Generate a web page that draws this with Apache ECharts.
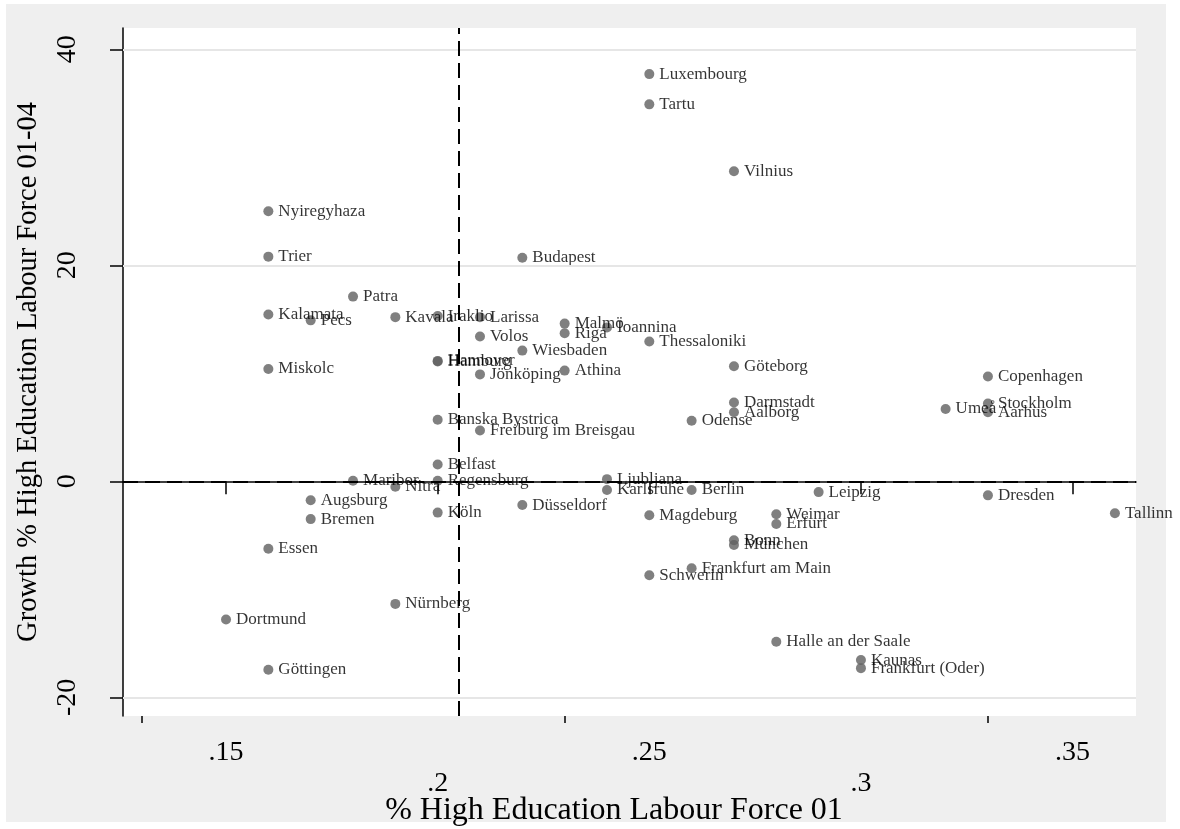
<!DOCTYPE html>
<html>
<head>
<meta charset="utf-8">
<script src="https://cdn.jsdelivr.net/npm/echarts@6/dist/echarts.min.js"></script>
<style>
  html, body { margin: 0; padding: 0; background: #ffffff; }
  #chart { width: 1180px; height: 829px; }
</style>
</head>
<body>
<div id="chart"></div>
<script>
// City-level share of high-educated labour force (2001) vs. its growth 2001-04
const cities = [
  'Luxembourg', 'Tartu', 'Vilnius', 'Nyiregyhaza', 'Trier', 'Budapest', 'Patra',
  'Kalamata', 'Pecs', 'Kavala', 'Iraklio', 'Larissa', 'Volos', 'Malmö', 'Riga',
  'Ioannina', 'Thessaloniki', 'Wiesbaden', 'Hannover', 'Hamburg', 'Miskolc',
  'Jönköping', 'Athina', 'Göteborg', 'Copenhagen', 'Darmstadt', 'Aalborg',
  'Stockholm', 'Aarhus', 'Umeå', 'Odense', 'Banska Bystrica', 'Freiburg im Breisgau',
  'Belfast', 'Maribor', 'Regensburg', 'Nitra', 'Ljubljana', 'Karlsruhe', 'Berlin',
  'Leipzig', 'Dresden', 'Augsburg', 'Bremen', 'Köln', 'Düsseldorf', 'Magdeburg',
  'Weimar', 'Erfurt', 'Tallinn', 'Bonn', 'München', 'Essen', 'Frankfurt am Main',
  'Schwerin', 'Nürnberg', 'Dortmund', 'Halle an der Saale', 'Kaunas',
  'Frankfurt (Oder)', 'Göttingen'
];
const shareHigh01 = [
  0.25, 0.25, 0.27, 0.16, 0.16, 0.22, 0.18,
  0.16, 0.17, 0.19, 0.20, 0.21, 0.21, 0.23, 0.23,
  0.24, 0.25, 0.22, 0.20, 0.20, 0.16,
  0.21, 0.23, 0.27, 0.33, 0.27, 0.27,
  0.33, 0.33, 0.32, 0.26, 0.20, 0.21,
  0.20, 0.18, 0.20, 0.19, 0.24, 0.24, 0.26,
  0.29, 0.33, 0.17, 0.17, 0.20, 0.22, 0.25,
  0.28, 0.28, 0.36, 0.27, 0.27, 0.16, 0.26,
  0.25, 0.19, 0.15, 0.28, 0.30,
  0.30, 0.16
];
const growth0104 = [
  37.7, 34.9, 28.7, 25.0, 20.8, 20.7, 17.1,
  15.45, 14.9, 15.2, 15.3, 15.2, 13.4, 14.6, 13.7,
  14.25, 12.95, 12.1, 11.15, 11.1, 10.4,
  9.9, 10.25, 10.65, 9.7, 7.3, 6.4,
  7.2, 6.4, 6.7, 5.6, 5.7, 4.7,
  1.55, 0.05, 0.05, -0.5, 0.2, -0.8, -0.8,
  -1.0, -1.3, -1.75, -3.5, -2.9, -2.2, -3.15,
  -3.05, -3.95, -2.95, -5.45, -5.9, -6.25, -8.05,
  -8.7, -11.35, -12.8, -14.85, -16.55,
  -17.3, -17.45
];

// Axis ticks and reference lines
const xTickValues = [0.15, 0.2, 0.25, 0.3, 0.35];
const xMinorTickValues = [0.13, 0.23, 0.33];
const yTickValues = [-20, 0, 20, 40];
const yGridValues = [-20, 20, 40];
const meanShare01 = 0.2049;
const zeroGrowth = 0;

const xRange = [0.12566, 0.36498];
const yRange = [-21.73, 41.97];

const serif = 'Liberation Serif, Times New Roman, serif';
const points = cities.map((c, i) => [shareHigh01[i], growth0104[i], c]);

const fmtShare = v => String(v).replace(/^0/, '');

const chart = echarts.init(document.getElementById('chart'), null, { renderer: 'canvas' });
chart.setOption({
  backgroundColor: '#ffffff',
  animation: false,
  graphic: [{
    type: 'rect', z: -10, silent: true,
    shape: { x: 6, y: 4, width: 1160, height: 818 },
    style: { fill: '#efefef' }
  }],
  title: {
    text: '% High Education Labour Force 01',
    left: 609, top: 790, textAlign: 'center',
    textStyle: { fontFamily: serif, fontSize: 32, fontWeight: 'normal', color: '#000' }
  },
  grid: {
    left: 123, right: 44, top: 28, bottom: 113,
    containLabel: false, outerBoundsMode: 'none',
    show: true, backgroundColor: '#ffffff', borderWidth: 0
  },
  xAxis: [{
    type: 'value', min: xRange[0], max: xRange[1], position: 'bottom',
    axisLine: { show: true, lineStyle: { color: '#000', width: 1.5 } },
    axisTick: { show: true, customValues: xTickValues, length: 13, lineStyle: { color: '#000', width: 1.5 } },
    axisLabel: {
      customValues: xTickValues, margin: 21, color: '#000',
      fontFamily: serif, fontSize: 28, lineHeight: 31,
      formatter: v => (Math.round(v * 100) % 10 === 0 ? '\n' : '') + fmtShare(v)
    },
    splitLine: { show: false }
  }, {
    type: 'value', min: xRange[0], max: xRange[1], position: 'bottom', offset: 0,
    axisLine: { show: false },
    axisTick: { show: true, customValues: xMinorTickValues, length: 7, lineStyle: { color: '#000', width: 1.5 } },
    axisLabel: { show: false },
    splitLine: { show: false }
  }],
  yAxis: {
    type: 'value', min: yRange[0], max: yRange[1],
    name: 'Growth % High Education Labour Force 01-04',
    nameLocation: 'middle', nameRotate: 90, nameGap: 80,
    nameTextStyle: { fontFamily: serif, fontSize: 28.5, color: '#000' },
    axisLine: { show: true, lineStyle: { color: '#000', width: 1.5 } },
    axisTick: { show: true, customValues: yTickValues, length: 13, lineStyle: { color: '#000', width: 1.5 } },
    axisLabel: {
      customValues: yTickValues, rotate: 90, margin: 41, color: '#000',
      fontFamily: serif, fontSize: 28
    },
    splitLine: { show: false }
  },
  series: [{
    // light horizontal gridlines
    type: 'scatter', data: [], z: 1, silent: true,
    markLine: {
      silent: true, symbol: 'none', animation: false, precision: 6,
      label: { show: false },
      lineStyle: { color: '#e6e6e6', width: 2, type: 'solid' },
      data: yGridValues.map(v => ({ yAxis: v }))
    }
  }, {
    type: 'scatter', data: points, z: 3,
    symbol: 'circle', symbolSize: 10,
    itemStyle: { color: '#606060' },
    label: {
      show: true, position: 'right', distance: 5,
      formatter: p => p.data[2],
      fontFamily: serif, fontSize: 17, color: '#000'
    },
    markLine: {
      silent: true, symbol: 'none', animation: false, precision: 6,
      label: { show: false },
      lineStyle: { color: '#000', width: 2, type: [15, 7] },
      data: [{ xAxis: meanShare01 }, { yAxis: zeroGrowth }]
    }
  }]
});
</script>
</body>
</html>
